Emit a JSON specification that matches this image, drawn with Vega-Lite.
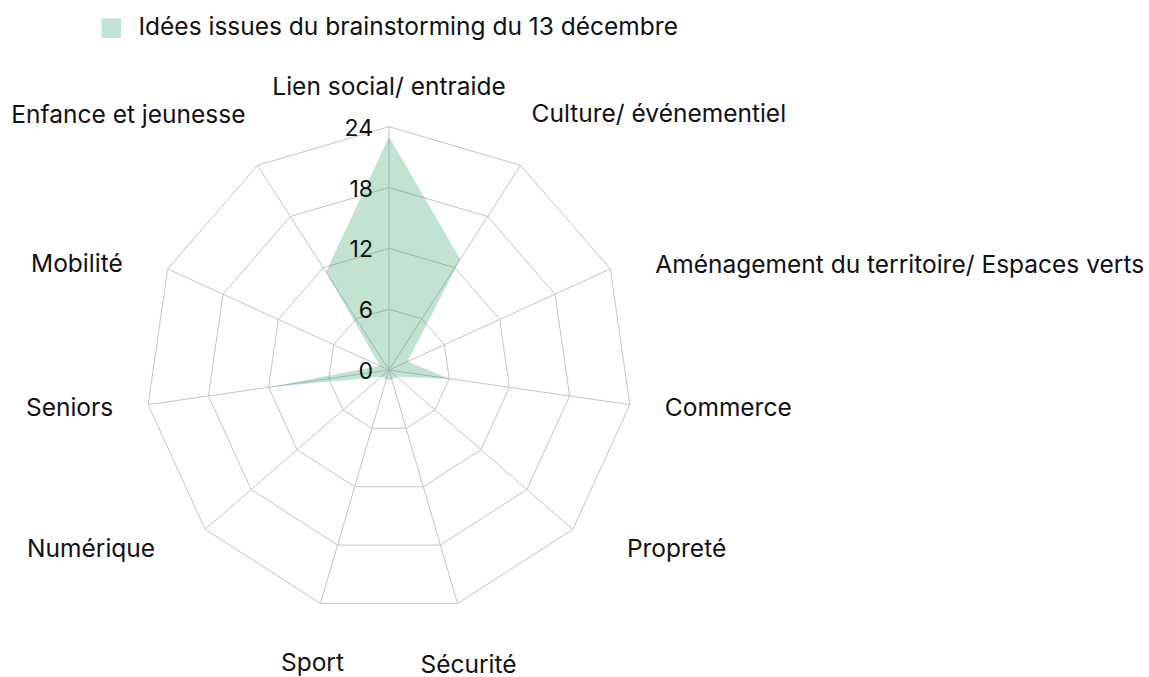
{
  "$schema": "https://vega.github.io/schema/vega-lite/v6.json",
  "width": 1149,
  "height": 677,
  "padding": 0,
  "autosize": {"type": "none"},
  "background": "white",
  "config": {"view": {"stroke": null}, "font": "Inter", "text": {"font": "Inter", "fontSize": 24.5, "color": "#111111"}},
  "datasets": {
    "ideas": [
      {"rang": 0, "categorie": "Lien social/ entraide", "valeur": 23, "serie": "Idées issues du brainstorming du 13 décembre"},
      {"rang": 1, "categorie": "Culture/ événementiel", "valeur": 13, "serie": "Idées issues du brainstorming du 13 décembre"},
      {"rang": 2, "categorie": "Aménagement du territoire/ Espaces verts", "valeur": 2, "serie": "Idées issues du brainstorming du 13 décembre"},
      {"rang": 3, "categorie": "Commerce", "valeur": 6, "serie": "Idées issues du brainstorming du 13 décembre"},
      {"rang": 4, "categorie": "Propreté", "valeur": 1, "serie": "Idées issues du brainstorming du 13 décembre"},
      {"rang": 5, "categorie": "Sécurité", "valeur": 1, "serie": "Idées issues du brainstorming du 13 décembre"},
      {"rang": 6, "categorie": "Sport", "valeur": 1, "serie": "Idées issues du brainstorming du 13 décembre"},
      {"rang": 7, "categorie": "Numérique", "valeur": 1, "serie": "Idées issues du brainstorming du 13 décembre"},
      {"rang": 8, "categorie": "Seniors", "valeur": 12, "serie": "Idées issues du brainstorming du 13 décembre"},
      {"rang": 9, "categorie": "Mobilité", "valeur": 1, "serie": "Idées issues du brainstorming du 13 décembre"},
      {"rang": 10, "categorie": "Enfance et jeunesse", "valeur": 11.5, "serie": "Idées issues du brainstorming du 13 décembre"}
    ],
    "grille": [
      {"niveau": 6, "rang": [0, 1, 2, 3, 4, 5, 6, 7, 8, 9, 10]},
      {"niveau": 12, "rang": [0, 1, 2, 3, 4, 5, 6, 7, 8, 9, 10]},
      {"niveau": 18, "rang": [0, 1, 2, 3, 4, 5, 6, 7, 8, 9, 10]},
      {"niveau": 24, "rang": [0, 1, 2, 3, 4, 5, 6, 7, 8, 9, 10]}
    ],
    "graduations": [
      {"niveau": 0}, {"niveau": 6}, {"niveau": 12}, {"niveau": 18}, {"niveau": 24}
    ]
  },
  "layer": [
    {
      "data": {"name": "grille"},
      "transform": [
        {"flatten": ["rang"]},
        {"calculate": "datum.rang * 2 * PI / 11", "as": "theta"},
        {"calculate": "datum.niveau * sin(datum.theta)", "as": "gx"},
        {"calculate": "datum.niveau * cos(datum.theta)", "as": "gy"}
      ],
      "mark": {"type": "line", "interpolate": "linear-closed", "stroke": "#c4c4c4", "strokeWidth": 1},
      "encoding": {
        "x": {"field": "gx", "type": "quantitative", "scale": {"domain": [-38.373, 74.969], "zero": false, "nice": false}, "axis": null},
        "y": {"field": "gy", "type": "quantitative", "scale": {"domain": [-30.284, 36.499], "zero": false, "nice": false}, "axis": null},
        "detail": {"field": "niveau", "type": "nominal"},
        "order": {"field": "rang", "type": "quantitative"}
      }
    },
    {
      "data": {"name": "ideas"},
      "transform": [
        {"calculate": "datum.rang * 2 * PI / 11", "as": "theta"},
        {"calculate": "24 * sin(datum.theta)", "as": "ox"},
        {"calculate": "24 * cos(datum.theta)", "as": "oy"},
        {"calculate": "0", "as": "zero"}
      ],
      "mark": {"type": "rule", "stroke": "#c4c4c4", "strokeWidth": 1},
      "encoding": {
        "x": {"field": "zero", "type": "quantitative", "scale": {"domain": [-38.373, 74.969], "zero": false, "nice": false}, "axis": null},
        "y": {"field": "zero", "type": "quantitative", "scale": {"domain": [-30.284, 36.499], "zero": false, "nice": false}, "axis": null},
        "x2": {"field": "ox"},
        "y2": {"field": "oy"}
      }
    },
    {
      "data": {"name": "ideas"},
      "transform": [
        {"calculate": "datum.rang * 2 * PI / 11", "as": "theta"},
        {"calculate": "datum.valeur * sin(datum.theta)", "as": "px"},
        {"calculate": "datum.valeur * cos(datum.theta)", "as": "py"}
      ],
      "mark": {"type": "line", "interpolate": "linear-closed", "strokeWidth": 0, "stroke": "transparent"},
      "encoding": {
        "x": {"field": "px", "type": "quantitative", "scale": {"domain": [-38.373, 74.969], "zero": false, "nice": false}, "axis": null},
        "y": {"field": "py", "type": "quantitative", "scale": {"domain": [-30.284, 36.499], "zero": false, "nice": false}, "axis": null},
        "order": {"field": "rang", "type": "quantitative"},
        "fill": {
          "field": "serie",
          "type": "nominal",
          "scale": {"range": ["rgba(52,162,105,0.3)"]},
          "legend": {
            "title": null,
            "orient": "none",
            "legendX": 99,
            "legendY": 16,
            "padding": 0,
            "symbolType": "square",
            "symbolSize": 380,
            "symbolStrokeWidth": 0,
            "symbolOpacity": 1,
            "labelFont": "Inter",
            "labelFontSize": 24.5,
            "labelColor": "#111111",
            "labelOffset": 15,
            "labelLimit": 1000
          }
        }
      }
    },
    {
      "data": {"name": "graduations"},
      "transform": [{"calculate": "0", "as": "zero"}],
      "mark": {"type": "text", "align": "right", "baseline": "middle", "dx": -16, "dy": 2, "fontSize": 23},
      "encoding": {
        "x": {"field": "zero", "type": "quantitative", "scale": {"domain": [-38.373, 74.969], "zero": false, "nice": false}, "axis": null},
        "y": {"field": "niveau", "type": "quantitative", "scale": {"domain": [-30.284, 36.499], "zero": false, "nice": false}, "axis": null},
        "text": {"field": "niveau", "type": "quantitative"}
      }
    },
    {
      "data": {"name": "ideas"},
      "transform": [
        {"calculate": "datum.rang * 2 * PI / 11", "as": "theta"},
        {"calculate": "24 * sin(datum.theta)", "as": "ox"},
        {"calculate": "24 * cos(datum.theta)", "as": "oy"}
      ],
      "encoding": {
        "x": {"field": "ox", "type": "quantitative", "scale": {"domain": [-38.373, 74.969], "zero": false, "nice": false}, "axis": null},
        "y": {"field": "oy", "type": "quantitative", "scale": {"domain": [-30.284, 36.499], "zero": false, "nice": false}, "axis": null},
        "text": {"field": "categorie", "type": "nominal"}
      },
      "layer": [
        {"transform": [{"filter": "datum.rang == 0"}], "mark": {"type": "text", "align": "center", "baseline": "alphabetic", "dx": 0, "dy": -32}},
        {"transform": [{"filter": "datum.rang == 1"}], "mark": {"type": "text", "align": "left", "baseline": "alphabetic", "dx": 11, "dy": -43}},
        {"transform": [{"filter": "datum.rang == 2"}], "mark": {"type": "text", "align": "left", "baseline": "alphabetic", "dx": 45, "dy": 4}},
        {"transform": [{"filter": "datum.rang == 3"}], "mark": {"type": "text", "align": "left", "baseline": "alphabetic", "dx": 35, "dy": 11}},
        {"transform": [{"filter": "datum.rang == 4"}], "mark": {"type": "text", "align": "left", "baseline": "alphabetic", "dx": 54, "dy": 28}},
        {"transform": [{"filter": "datum.rang == 5"}], "mark": {"type": "text", "align": "center", "baseline": "alphabetic", "dx": 11, "dy": 70}},
        {"transform": [{"filter": "datum.rang == 6"}], "mark": {"type": "text", "align": "center", "baseline": "alphabetic", "dx": -8, "dy": 68}},
        {"transform": [{"filter": "datum.rang == 7"}], "mark": {"type": "text", "align": "right", "baseline": "alphabetic", "dx": -50, "dy": 28}},
        {"transform": [{"filter": "datum.rang == 8"}], "mark": {"type": "text", "align": "right", "baseline": "alphabetic", "dx": -35, "dy": 11}},
        {"transform": [{"filter": "datum.rang == 9"}], "mark": {"type": "text", "align": "right", "baseline": "alphabetic", "dx": -45, "dy": 3}},
        {"transform": [{"filter": "datum.rang == 10"}], "mark": {"type": "text", "align": "right", "baseline": "alphabetic", "dx": -12, "dy": -42}}
      ]
    }
  ]
}
